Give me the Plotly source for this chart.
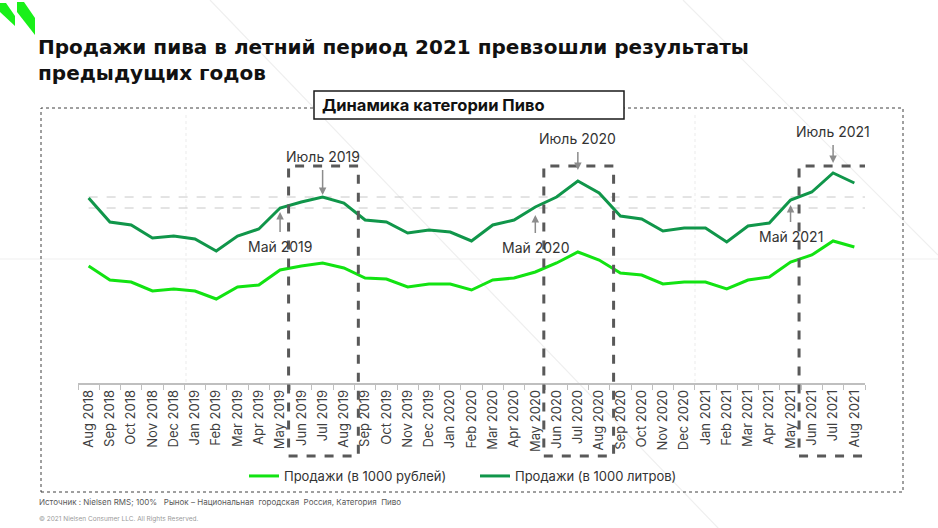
import plotly.graph_objects as go

months = [
    "Aug 2018", "Sep 2018", "Oct 2018", "Nov 2018", "Dec 2018",
    "Jan 2019", "Feb 2019", "Mar 2019", "Apr 2019", "May 2019", "Jun 2019", "Jul 2019",
    "Aug 2019", "Sep 2019", "Oct 2019", "Nov 2019", "Dec 2019",
    "Jan 2020", "Feb 2020", "Mar 2020", "Apr 2020", "May 2020", "Jun 2020", "Jul 2020",
    "Aug 2020", "Sep 2020", "Oct 2020", "Nov 2020", "Dec 2020",
    "Jan 2021", "Feb 2021", "Mar 2021", "Apr 2021", "May 2021", "Jun 2021", "Jul 2021",
    "Aug 2021",
]

# relative index (no y scale shown in the source)
sales_rub = [
    117, 103, 101, 92, 94,
    92, 84, 96, 98, 113, 117, 120,
    115, 105, 104, 96, 99,
    99, 93, 103, 105, 111, 120, 131,
    123, 110, 108, 99, 101,
    101, 94, 103, 106, 121, 128, 142,
    136,
]
sales_litres = [
    185, 161, 158, 145, 147,
    144, 132, 147, 154, 175, 181, 186,
    180, 163, 161, 150, 153,
    151, 142, 158, 163, 176, 186, 202,
    190, 167, 164, 152, 155,
    155, 141, 157, 160, 183, 191, 210,
    200,
]

summer_boxes = [("Jun 2019", "Aug 2019"), ("Jun 2020", "Aug 2020"), ("Jun 2021", "Aug 2021")]
callouts = [
    # label, month, arrow head level, text offset (px)
    ("Июль 2019", "Jul 2019", 188, -39),
    ("Июль 2020", "Jul 2020", 213, -32),
    ("Июль 2021", "Jul 2021", 220, -32),
    ("Май 2019", "May 2019", 171, 34),
    ("Май 2020", "May 2020", 168, 32),
    ("Май 2021", "May 2021", 178, 31),
]
title_text = "Продажи пива в летний период 2021 превзошли результаты<br>предыдущих годов"

LIGHT = "#12e312"
DARK = "#10964a"
FONT = "Inter, 'Open Sans', sans-serif"

W, H = 938, 528
L, R, T, B = 78, 73, 115, 145
PW, PH = W - L - R, H - T - B


def px(x):
    return (x - L) / PW


def py(y):
    return (H - B - y) / PH


fig = go.Figure()
fig.add_trace(go.Scatter(x=months, y=sales_rub, mode="lines", name="Продажи (в 1000 рублей)",
                         line=dict(color=LIGHT, width=3)))
fig.add_trace(go.Scatter(x=months, y=sales_litres, mode="lines", name="Продажи (в 1000 литров)",
                         line=dict(color=DARK, width=3)))

shapes = []
# faint slide background decoration
for x0, y0, x1, y1, dash in [(0, 259, W, 259, "solid"), (210, 0, 720, 530, "solid"),
                             (683, 0, W, 255, "solid"), (186, 115, 186, 383, "dot"),
                             (695, 115, 695, 383, "dot")]:
    shapes.append(dict(type="line", xref="paper", yref="paper", x0=px(x0), y0=py(y0),
                       x1=px(x1), y1=py(y1), layer="below",
                       line=dict(color="#efefef", width=1.2, dash=dash)))

# reference levels (Jul 2019 and May 2019 volume)
for m in ["Jul 2019", "May 2019"]:
    lvl = sales_litres[months.index(m)]
    shapes.append(dict(type="line", xref="x", yref="y", x0=0, x1=36.5, y0=lvl, y1=lvl,
                       line=dict(color="#c8c8c8", width=1, dash="dash"), layer="below"))

# summer boxes
for a, b in summer_boxes:
    shapes.append(dict(type="rect", xref="x", yref="paper",
                       x0=months.index(a) - 0.6, x1=months.index(b) + 0.68,
                       y0=py(456), y1=py(166),
                       line=dict(color="#595959", width=3, dash="dash")))

# outer dashed frame
shapes.append(dict(type="rect", xref="paper", yref="paper", x0=px(41), x1=px(903),
                   y0=py(492), y1=py(108), line=dict(color="#404040", width=1, dash="dot")))
# subtitle box
shapes.append(dict(type="rect", xref="paper", yref="paper", x0=px(314), x1=px(624),
                   y0=py(119), y1=py(91), fillcolor="white",
                   line=dict(color="#1a1a1a", width=1.5)))

# logo
for pts in [[(0, 3), (6, 3), (15, 16), (15, 26), (0, 12)],
            [(17, 2), (24, 2), (35, 18), (35, 35), (17, 12)]]:
    path = "M " + " L ".join(f"{px(x)},{py(y)}" for x, y in pts) + " Z"
    shapes.append(dict(type="path", xref="paper", yref="paper", path=path,
                       fillcolor="#19f019", line=dict(width=0)))

annotations = [
    dict(xref="paper", yref="paper", x=px(36), y=py(59.5), xanchor="left", yanchor="middle",
         align="left", showarrow=False, text=f"<b>{title_text}</b>",
         font=dict(family="'DejaVu Sans', sans-serif", size=20, color="#111111")),
    dict(xref="paper", yref="paper", x=px(320), y=py(105), xanchor="left", yanchor="middle",
         showarrow=False, text="<b>Динамика категории Пиво</b>",
         font=dict(family=FONT, size=16.5, color="#111111")),
    dict(xref="paper", yref="paper", x=px(37), y=py(502), xanchor="left", yanchor="middle",
         showarrow=False,
         text="Источник : Nielsen RMS; 100%   Рынок – Национальная  городская  Россия, Категория  Пиво",
         font=dict(family=FONT, size=8, color="#595959")),
    dict(xref="paper", yref="paper", x=px(37), y=py(519), xanchor="left", yanchor="middle",
         showarrow=False, text="© 2021 Nielsen Consumer LLC. All Rights Reserved.",
         font=dict(family=FONT, size=6.5, color="#9a9a9a")),
]
for label, m, head, off in callouts:
    annotations.append(dict(x=m, y=head, xref="x", yref="y", ax=0, ay=off, text=label,
                            showarrow=True, arrowhead=2, arrowsize=1, arrowwidth=1.5,
                            arrowcolor="#8c8c8c", startstandoff=4,
                            font=dict(family=FONT, size=14, color="#333333")))

fig.update_layout(
    width=W, height=H, autosize=False,
    margin=dict(l=L, r=R, t=T, b=B),
    paper_bgcolor="white", plot_bgcolor="rgba(0,0,0,0)",
    shapes=shapes, annotations=annotations,
    showlegend=True,
    legend=dict(orientation="h", x=px(244), xanchor="left", y=py(476), yanchor="middle",
                entrywidth=186, itemwidth=30,
                font=dict(family=FONT, size=13, color="#333333"), bgcolor="rgba(0,0,0,0)"),
    xaxis=dict(type="category", range=[-0.5, 36.5], tickson="boundaries", ticks="outside",
               ticklen=5, tickcolor="#bfbfbf", showline=True, linecolor="#bfbfbf", linewidth=1.5,
               tickangle=-90, showgrid=False, fixedrange=True,
               tickfont=dict(family=FONT, size=13, color="#404040")),
    yaxis=dict(range=[0, PH], visible=False, showgrid=False, fixedrange=True),
    font=dict(family=FONT),
)

fig.write_html("out.html", config={"displayModeBar": False},
               post_script="document.body.style.margin='0';")
